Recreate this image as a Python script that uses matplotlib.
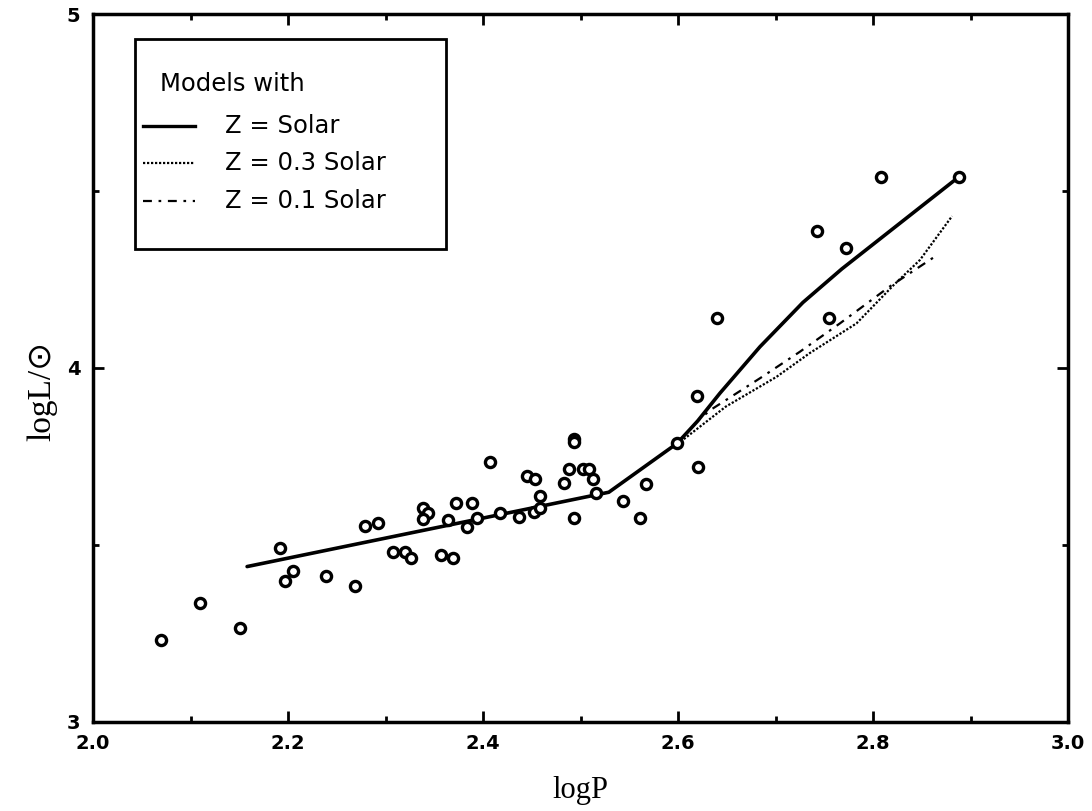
import matplotlib
matplotlib.use("Agg")
import matplotlib.pyplot as plt
from matplotlib.lines import Line2D
from matplotlib.patches import Rectangle
from matplotlib.ticker import MultipleLocator, FormatStrFormatter

# observed stars
logp_obs = [2.070, 2.110, 2.151, 2.192, 2.197, 2.205, 2.239, 2.269, 2.279, 2.292,
            2.308, 2.320, 2.326, 2.338, 2.344, 2.338, 2.357, 2.369, 2.364, 2.372,
            2.384, 2.389, 2.394, 2.407, 2.417, 2.437, 2.445, 2.453, 2.452, 2.458,
            2.458, 2.483, 2.488, 2.493, 2.493, 2.493, 2.503, 2.509, 2.513, 2.516,
            2.544, 2.567, 2.561, 2.599, 2.620, 2.619, 2.640, 2.742, 2.755, 2.772,
            2.808, 2.888]
logl_obs = [3.232, 3.337, 3.266, 3.492, 3.399, 3.427, 3.412, 3.384, 3.554, 3.561,
            3.479, 3.479, 3.464, 3.604, 3.590, 3.574, 3.471, 3.464, 3.571, 3.618,
            3.552, 3.618, 3.577, 3.735, 3.590, 3.580, 3.695, 3.686, 3.594, 3.638,
            3.604, 3.674, 3.714, 3.799, 3.790, 3.575, 3.714, 3.714, 3.686, 3.648,
            3.624, 3.672, 3.576, 3.787, 3.721, 3.922, 4.140, 4.388, 4.142, 4.340,
            4.540, 4.540]

# model curves
solar_p = [2.158, 2.529, 2.599, 2.620, 2.643, 2.684, 2.728, 2.768, 2.888]
solar_l = [3.439, 3.649, 3.787, 3.850, 3.929, 4.060, 4.185, 4.280, 4.540]
z03_p = [2.599, 2.605, 2.649, 2.701, 2.735, 2.783, 2.821, 2.848, 2.881]
z03_l = [3.787, 3.797, 3.891, 3.975, 4.042, 4.126, 4.234, 4.305, 4.429]
z01_p = [2.599, 2.620, 2.633, 2.684, 2.725, 2.766, 2.817, 2.863]
z01_l = [3.787, 3.850, 3.881, 3.971, 4.046, 4.126, 4.230, 4.314]

legend_title = "Models with"
legend_labels = ["Z = Solar", "Z = 0.3 Solar", "Z = 0.1 Solar"]

SOLID = "-"
DOTTED = (0, (1.0, 0.8))
DASHDOT = (0, (4, 3, 1.2, 3))

fig = plt.figure(figsize=(10.92, 8.11), dpi=100)
ax = fig.add_axes([0.0852, 0.1098, 0.8929, 0.8729])

ax.plot(solar_p, solar_l, color="black", lw=2.6, ls=SOLID, solid_capstyle="round")
ax.plot(z03_p, z03_l, color="black", lw=1.6, ls=DOTTED)
ax.plot(z01_p, z01_l, color="black", lw=1.6, ls=DASHDOT)
ax.plot(logp_obs, logl_obs, ls="none", marker="o", ms=7.3, mew=2.4,
        mec="black", mfc="white", zorder=3)

ax.set_xlim(2.0, 3.0)
ax.set_ylim(3, 5)
ax.xaxis.set_major_locator(MultipleLocator(0.2))
ax.xaxis.set_minor_locator(MultipleLocator(0.1))
ax.yaxis.set_major_locator(MultipleLocator(1))
ax.yaxis.set_minor_locator(MultipleLocator(0.5))
ax.xaxis.set_major_formatter(FormatStrFormatter("%.1f"))
ax.yaxis.set_major_formatter(FormatStrFormatter("%d"))

ax.tick_params(which="both", direction="in", top=True, right=True, width=2)
ax.tick_params(which="major", length=8)
ax.tick_params(which="minor", length=4.5)
ax.tick_params(axis="x", pad=9)
ax.tick_params(axis="y", pad=9)
for lab in ax.get_xticklabels() + ax.get_yticklabels():
    lab.set_fontfamily("DejaVu Sans")
    lab.set_fontweight("bold")
    lab.set_fontsize(14)
for sp in ax.spines.values():
    sp.set_linewidth(2.5)

ax.set_xlabel("logP", fontsize=22, family="Liberation Serif", labelpad=16)
ax.set_ylabel("logL/\u2299", fontsize=24, family=["Liberation Serif", "DejaVu Sans"])
ax.yaxis.set_label_coords(-0.037, 0.467)

# legend box drawn by hand (the original box is much roomier than matplotlib's)
ax.add_patch(Rectangle((0.0431, 0.668), 0.319, 0.2967, transform=ax.transAxes,
                       facecolor="white", edgecolor="black", lw=2, zorder=4))
ax.text(0.0687, 0.901, legend_title, transform=ax.transAxes, fontsize=17.5,
        family="DejaVu Sans", va="center", ha="left", zorder=5)
styles = [(SOLID, 2.4), (DOTTED, 1.6), (DASHDOT, 1.6)]
rows = [0.842, 0.790, 0.736]
for (ls, lw), yy, lab in zip(styles, rows, legend_labels):
    ax.add_line(Line2D([0.0513, 0.1046], [yy, yy], transform=ax.transAxes,
                       color="black", ls=ls, lw=lw, zorder=5))
    ax.text(0.135, yy, lab, transform=ax.transAxes, fontsize=17.5,
            family="DejaVu Sans", va="center", ha="left", zorder=5)

fig.savefig("out.png", dpi=100)
